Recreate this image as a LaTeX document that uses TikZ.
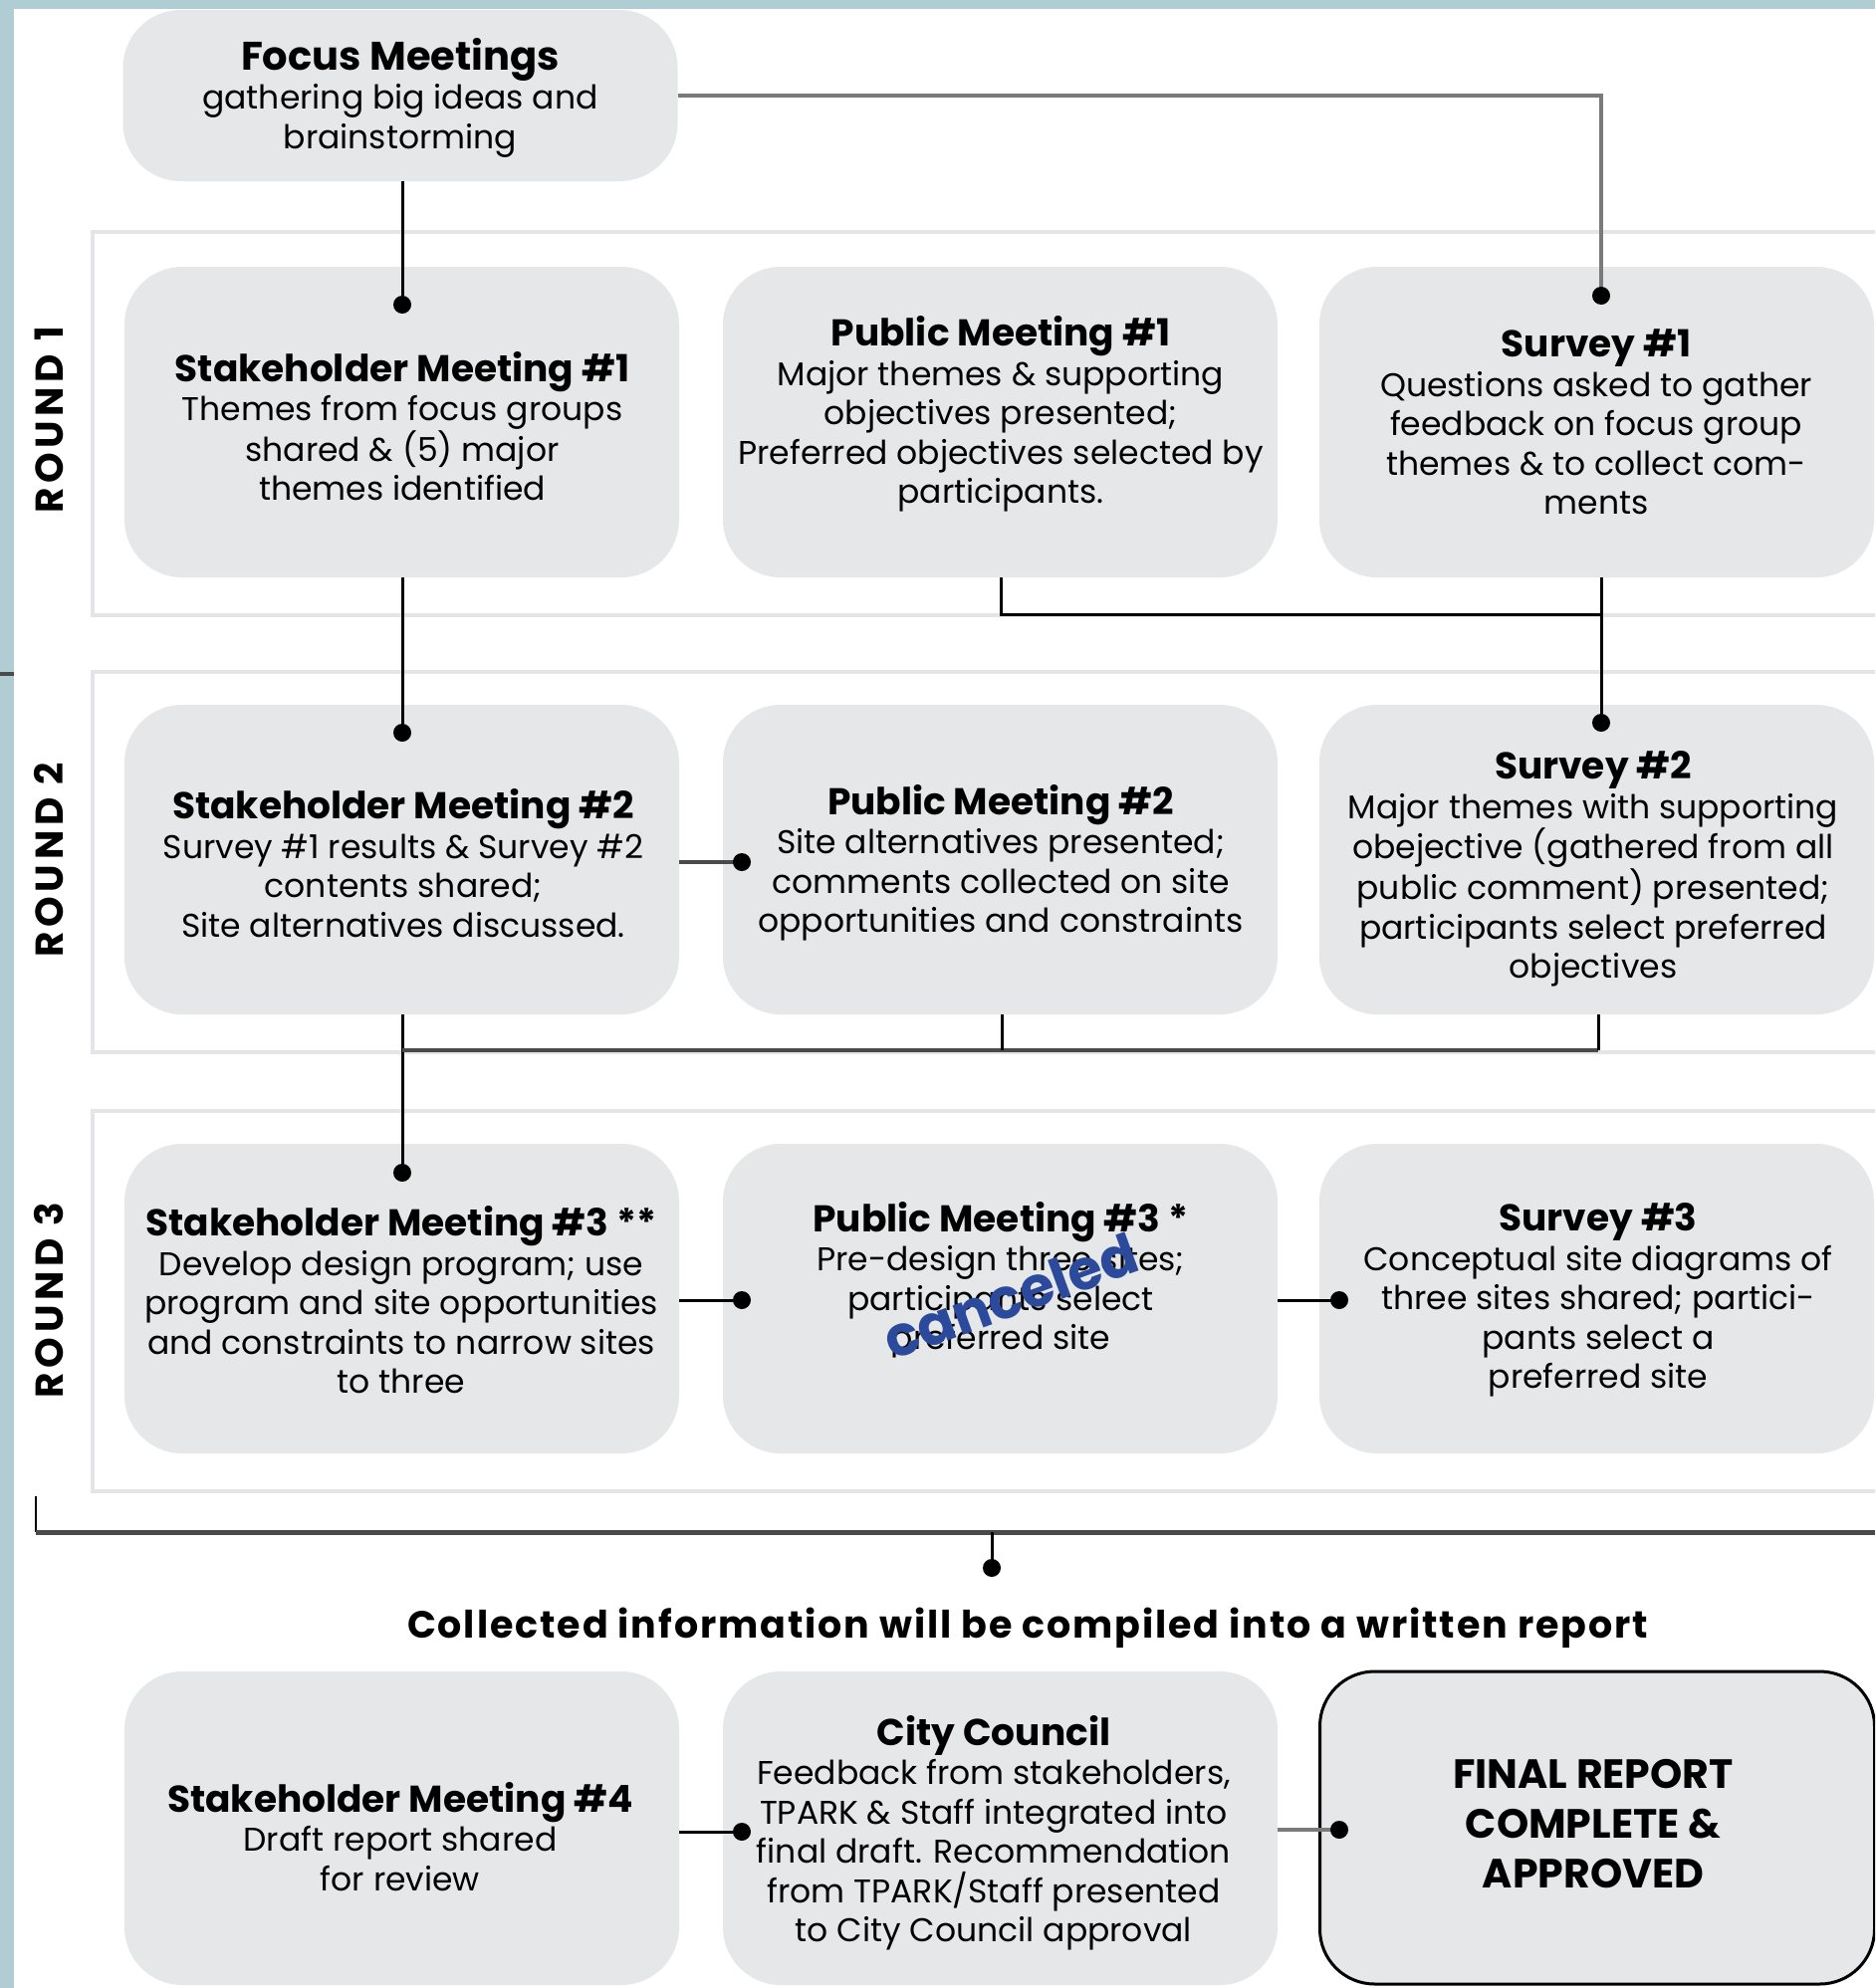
\documentclass[tikz,border=0pt]{standalone}
\usepackage{fontspec}
\setmainfont{Poppins}
\usetikzlibrary{calc}
\definecolor{boxgray}{HTML}{E6E7E8}
\definecolor{framegray}{HTML}{E4E5E7}
\definecolor{stripblue}{HTML}{B0CDD4}
\definecolor{stampblue}{HTML}{2B4A9B}
\definecolor{linegray}{HTML}{7A7A7A}
\definecolor{darkline}{HTML}{4A4A4A}
\newcommand{\boxttl}[1]{{\bfseries\fontsize{37.5}{39}\selectfont #1}}
\begin{document}
\begin{tikzpicture}[x=1pt,y=-1pt,
  box/.style={rectangle, rounded corners=58pt, fill=boxgray, minimum width=557pt, minimum height=312pt, inner sep=0pt, outer sep=0pt},
  txt/.style={align=center, font=\fontsize{33}{39.5}\selectfont, inner sep=0pt, text=black},
  roundlbl/.style={rotate=90, inner sep=0pt, font=\bfseries\fontsize{39}{39}\selectfont\addfontfeatures{LetterSpace=12}},
  frame/.style={draw=framegray, line width=4pt, fill=white},
  conn/.style={draw=black, line width=3pt},
  connd/.style={draw=darkline, line width=4pt},
  dotc/.style={fill=black}
]
\clip (0,0) rectangle (1883,1997);
\fill[white] (0,0) rectangle (1883,1997);
% strips
\fill[stripblue] (0,0) rectangle (1883,9);
\fill[stripblue] (0,0) rectangle (14,1997);
\fill[darkline] (0,675) rectangle (14,679);

% round frames
\draw[frame] (93,233) rectangle (1900,618);
\draw[frame] (93,675) rectangle (1900,1057);
\draw[frame] (93,1116) rectangle (1900,1498);

% boxes
\node[box, minimum height=172pt] (focus) at (402,96) {};
\node[box] (s1) at (403.5,424) {};
\node[box] (p1) at (1004.5,424) {};
\node[box] (v1) at (1603.5,424) {};
\node[box, minimum height=311pt] (s2) at (403.5,863.5) {};
\node[box, minimum height=311pt] (p2) at (1004.5,863.5) {};
\node[box, minimum height=311pt] (v2) at (1603.5,863.5) {};
\node[box, minimum height=311pt] (s3) at (403.5,1304.5) {};
\node[box, minimum height=311pt] (p3) at (1004.5,1304.5) {};
\node[box, minimum height=311pt] (v3) at (1603.5,1304.5) {};
\node[box, minimum height=315pt] (s4) at (403.5,1836.5) {};
\node[box, minimum height=315pt] (cc) at (1004.5,1836.5) {};
\node[box, minimum height=314pt, draw=black, line width=3pt, rounded corners=55pt] (fin) at (1604,1836) {};

% dot coordinates
\coordinate (d1) at (404,306);
\coordinate (d2) at (1608,297);
\coordinate (d3) at (404,736);
\coordinate (d4) at (1608,726);
\coordinate (d5) at (745,866);
\coordinate (d6) at (404,1178);
\coordinate (d7) at (745,1306);
\coordinate (d8) at (1345,1306);
\coordinate (d9) at (996,1575);
\coordinate (d10) at (745,1840);
\coordinate (d11) at (1345,1838);
\coordinate (j1) at (1005,617);
\coordinate (j2) at (404,1055);
\coordinate (b1) at (36,1503);
\coordinate (b2) at (36,1539);
\coordinate (b3) at (1883,1539);

% connectors
\draw[conn] (d1 |- focus.south) -- (d1);
\draw[draw=linegray, line width=4pt] (focus.east |- 0,96) -- (1608,96) -- (d2);
\draw[conn] (d3 |- s1.south) -- (d3);
\draw[conn] (j1 |- p1.south) -- (j1) -- (d4 |- j1);
\draw[conn] (d4 |- v1.south) -- (d4);
\draw[connd] (s2.east |- d5) -- (d5);
\draw[conn] (d6 |- s2.south) -- (d6);
\draw[connd] (j2) -- (1605,1055);
\draw[conn] (1006,1019) -- (1006,1055);
\draw[conn] (1605,1019) -- (1605,1055);
\draw[conn] (s3.east |- d7) -- (d7);
\draw[conn] (p3.east |- d8) -- (d8);
\draw[draw=black, line width=2pt] (b1) -- (b2);
\draw[connd, line width=5pt] (b2) -- (b3);
\draw[conn] (d9 |- b2) -- (d9);
\draw[conn] (s4.east |- d10) -- (d10);
\draw[draw=linegray, line width=4pt] (cc.east |- d11) -- (d11);

% dots
\foreach \d in {d1,d2,d3,d4,d5,d6,d7,d8,d9,d10,d11}
  \fill[dotc] (\d) circle (9pt);

% round labels
\node[roundlbl] (r1) at (49,422) {ROUND 1};
\node[roundlbl] (r2) at (49,864) {ROUND 2};
\node[roundlbl] (r3) at (49,1306) {ROUND 3};

% texts
\node[txt] (tfocus) at (402,98) {{\bfseries\fontsize{40}{39}\selectfont Focus Meetings}\\gathering big ideas and\\brainstorming};
\node[txt] (ts1) at (404,428) {\boxttl{Stakeholder Meeting \#1}\\Themes from focus groups\\shared \& (5) major\\themes identified};
\node[txt] (tp1) at (1005,416) {\boxttl{Public Meeting \#1}\\Major themes \& supporting\\objectives presented;\\Preferred objectives selected by\\participants.};
\node[txt] (tv1) at (1603,424) {\boxttl{Survey \#1}\\Questions asked to gather\\feedback on focus group\\themes \& to collect com-\\ments};
\node[txt] (ts2) at (405,867) {\boxttl{Stakeholder Meeting \#2}\\Survey \#1 results \& Survey \#2\\contents shared;\\Site alternatives discussed.};
\node[txt] (tp2) at (1005,867) {\boxttl{Public Meeting \#2}\\Site alternatives presented;\\comments collected on site\\opportunities and constraints};
\node[txt] (tv2) at (1600,873) {\boxttl{Survey \#2}\\Major themes with supporting\\obejective (gathered from all\\public comment) presented;\\participants select preferred\\objectives};
\node[txt] (ts3) at (403,1306) {\boxttl{Stakeholder Meeting \#3 **}\\Develop design program; use\\program and site opportunities\\and constraints to narrow sites\\to three};
\node[txt] (tp3) at (1005,1286) {\boxttl{Public Meeting \#3 *}\\Pre-design three sites;\\participants select\\preferred site};
\node[txt] (tv3) at (1605,1306) {\boxttl{Survey \#3}\\Conceptual site diagrams of\\three sites shared; partici-\\pants select a\\preferred site};
\node[txt] (ts4) at (402,1845) {\boxttl{Stakeholder Meeting \#4}\\Draft report shared\\for review};
\node[txt] (tcc) at (998,1841) {\boxttl{City Council}\\Feedback from stakeholders,\\TPARK \& Staff integrated into\\final draft. Recommendation\\from TPARK/Staff presented\\to City Council approval};
\node[txt, font=\bfseries\fontsize{41}{50}\selectfont] (tfin) at (1600,1832) {FINAL REPORT\\COMPLETE \&\\APPROVED};
\node[txt, font=\bfseries\fontsize{38}{39}\selectfont\addfontfeatures{LetterSpace=5}] (tcoll) at (1032,1635) {Collected information will be compiled into a written report};

% canceled stamp
\node[inner sep=0pt, rotate=20, text=stampblue, font=\bfseries\fontsize{56}{56}\selectfont] (stamp) at (1015,1302) {canceled};
\end{tikzpicture}
\end{document}
